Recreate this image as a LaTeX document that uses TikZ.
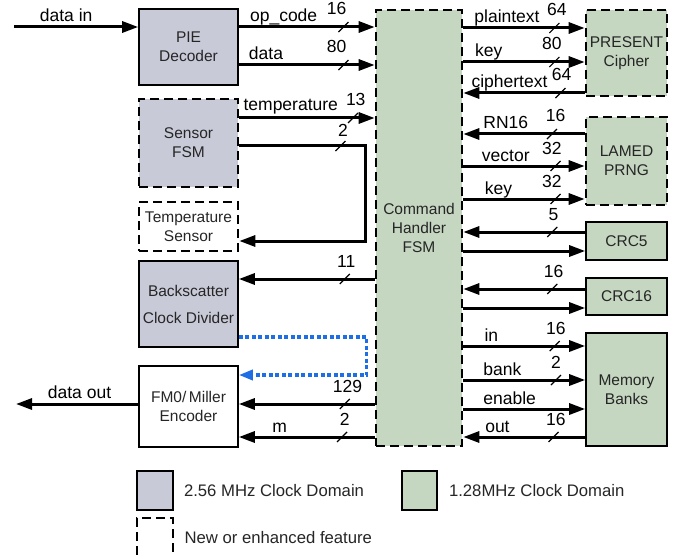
\documentclass[tikz,border=0pt]{standalone}
\usepackage{fontspec}
\setmainfont{Liberation Sans}
\usetikzlibrary{arrows.meta,positioning}
\definecolor{fastclk}{RGB}{200,202,216}
\definecolor{slowclk}{RGB}{197,214,193}
\definecolor{linkblue}{RGB}{30,110,230}
\begin{document}
\begin{tikzpicture}[
  x=1pt, y=-1pt,
  blk/.style={draw, line width=1.6pt, align=center, inner sep=0pt,
    font=\fontsize{15.5}{19}\selectfont, text=black!85},
  newblk/.style={blk, line width=2.6pt, dash pattern=on 9pt off 5pt},
  fast/.style={fill=fastclk}, slow/.style={fill=slowclk},
  bus/.style={line width=3pt, -{Triangle[length=16pt,width=11pt]}},
  ctl/.style={draw=linkblue, line width=3.4pt, dash pattern=on 4pt off 2.5pt,
    -{Triangle[length=14pt,width=10pt]}},
  sig/.style={anchor=base, inner sep=0pt, yshift=5pt, font=\fontsize{17.5}{20}\selectfont},
  num/.style={sig, yshift=7pt},
  slash/.style={line width=1.2pt},
  lgd/.style={font=\fontsize{16.7}{20}\selectfont, text=black!85, inner sep=0pt}
]
  \path[use as bounding box, fill=white] (0,0) rectangle (684,556);

  % left column
  \node[blk, fast, minimum width=99pt, minimum height=76pt] (pie) at (188.5,47) {PIE\\Decoder};
  \node[newblk, fast, minimum width=99pt, minimum height=88pt] (sfsm) at (188.5,143) {Sensor\\FSM};
  \node[newblk, minimum width=99pt, minimum height=49pt] (tsens) at (188.5,226.5) {Temperature\\Sensor};
  \node[blk, fast, minimum width=99pt, minimum height=86pt] (bdiv) at (188.5,304) {Backscatter\\[8pt]Clock Divider};
  \node[blk, fill=white, minimum width=99pt, minimum height=81pt] (enc) at (188.5,406.5) {FM0/\,Miller\\Encoder};

  % command handler
  \node[newblk, slow, minimum width=86pt, minimum height=436pt] (cmd) at (419,228) {Command\\Handler\\FSM};

  % right column
  \node[newblk, slow, minimum width=81pt, minimum height=86pt] (present) at (626.5,53) {PRESENT\\Cipher};
  \node[newblk, slow, minimum width=81pt, minimum height=88pt] (prng) at (626.5,161) {LAMED\\PRNG};
  \node[blk, slow, minimum width=81pt, minimum height=38pt] (crc5) at (626.5,241) {CRC5};
  \node[blk, slow, minimum width=81pt, minimum height=37pt] (crc16) at (626.5,296.5) {CRC16};
  \node[blk, slow, minimum width=81pt, minimum height=113pt] (mem) at (626.5,389.5) {Memory\\Banks};

  % external ends
  \coordinate (din) at (14,27);
  \coordinate (dout) at (16,404);
  \draw[bus] (din) -- node[pos=.42, sig] (l-din) {data in} (din -| pie.west);
  \draw[bus] ([yshift=2.5pt]enc.west) coordinate (y-dout) -- node[pos=.48, sig, yshift=1pt] (l-dout) {data out} (dout);

  % left buses
  \draw[bus] ([yshift=20pt]pie.east) coordinate (y-opc) -- node[pos=.33, sig] (l-opc) {op\_code}
    node[pos=.72, num] (n-opc) {16} coordinate[pos=.77] (w-opc) (y-opc -| cmd.west);
  \draw[bus] ([yshift=-18pt]pie.east) coordinate (y-dat) -- node[pos=.2, sig] (l-dat) {data}
    node[pos=.72, num] (n-dat) {80} coordinate[pos=.77] (w-dat) (y-dat -| cmd.west);
  \draw[bus] ([yshift=25pt]sfsm.east) coordinate (y-tmp) -- node[pos=.38, sig, yshift=2pt] (l-tmp) {temperature}
    node[pos=.86, num] (n-tmp) {13} coordinate[pos=.84] (w-tmp) (y-tmp -| cmd.west);
  \path ([yshift=-3pt]sfsm.east) coordinate (y-s2a) ([xshift=-9pt]cmd.west) coordinate (x-s2)
    ([yshift=-14.5pt]tsens.east) coordinate (y-s2b);
  \draw[bus] (y-s2a) -| node[pos=.41, num, yshift=-3pt] (n-s2) {2} coordinate[pos=.4] (w-s2)
    (x-s2 |- y-s2b) -- (y-s2b);
  \path ([yshift=25pt]bdiv.east) coordinate (y-clk);
  \draw[bus] (y-clk -| cmd.west) -- node[pos=.21, num] (n-clk) {11} coordinate[pos=.22] (w-clk) (y-clk);
  \path ([yshift=-33pt]bdiv.east) coordinate (y-bl1) ([yshift=31.5pt]enc.east) coordinate (y-bl2);
  \draw[ctl] (y-bl1) -| ([xshift=-8pt]cmd.west |- y-bl2) -- (y-bl2);
  \draw[bus] (y-dout -| cmd.west) -- node[pos=.2, num] (n-enc) {129} coordinate[pos=.22] (w-enc) (y-dout -| enc.east);
  \path ([yshift=-30.5pt]enc.east) coordinate (y-m);
  \draw[bus] (y-m -| cmd.west) -- node[pos=.7, sig] (l-m) {m}
    node[pos=.22, num] (n-m) {2} coordinate[pos=.24] (w-m) (y-m);

  % right buses
  \path ([yshift=25pt]present.west) coordinate (y-pt) ([yshift=-9pt]present.west) coordinate (y-k80)
    ([yshift=-40pt]present.west) coordinate (y-ct);
  \draw[bus] (y-pt -| cmd.east) -- node[pos=.36, sig] (l-pt) {plaintext}
    node[pos=.77, num] (n-pt) {64} coordinate[pos=.75] (w-pt) (y-pt);
  \draw[bus] (y-k80 -| cmd.east) -- node[pos=.21, sig] (l-k80) {key}
    node[pos=.73, num] (n-k80) {80} coordinate[pos=.75] (w-k80) (y-k80);
  \draw[bus] (y-ct) -- node[pos=.62, sig] (l-ct) {ciphertext}
    node[pos=.19, num] (n-ct) {64} coordinate[pos=.2] (w-ct) (y-ct -| cmd.east);
  \path ([yshift=27pt]prng.west) coordinate (y-rn) ([yshift=-5pt]prng.west) coordinate (y-vec)
    ([yshift=-38pt]prng.west) coordinate (y-k32);
  \draw[bus] (y-rn) -- node[pos=.65, sig] (l-rn) {RN16}
    node[pos=.24, num] (n-rn) {16} coordinate[pos=.27] (w-rn) (y-rn -| cmd.east);
  \draw[bus] (y-vec -| cmd.east) -- node[pos=.35, sig] (l-vec) {vector}
    node[pos=.73, num] (n-vec) {32} coordinate[pos=.76] (w-vec) (y-vec);
  \draw[bus] (y-k32 -| cmd.east) -- node[pos=.29, sig] (l-k32) {key}
    node[pos=.73, num] (n-k32) {32} coordinate[pos=.76] (w-k32) (y-k32);
  \path ([yshift=9pt]crc5.west) coordinate (y-c5a) ([yshift=-10pt]crc5.west) coordinate (y-c5b);
  \draw[bus] (y-c5a) -- node[pos=.26, num] (n-c5) {5} coordinate[pos=.27] (w-c5) (y-c5a -| cmd.east);
  \draw[bus] (y-c5b -| cmd.east) -- (y-c5b);
  \path ([yshift=7.5pt]crc16.west) coordinate (y-c16a) ([yshift=-11.5pt]crc16.west) coordinate (y-c16b);
  \draw[bus] (y-c16a) -- node[pos=.26, num] (n-c16) {16} coordinate[pos=.27] (w-c16) (y-c16a -| cmd.east);
  \draw[bus] (y-c16b -| cmd.east) -- (y-c16b);
  \path ([yshift=43.5pt]mem.west) coordinate (y-in) ([yshift=9.5pt]mem.west) coordinate (y-bk)
    ([yshift=-19.5pt]mem.west) coordinate (y-en) ([yshift=-47.5pt]mem.west) coordinate (y-out);
  \draw[bus] (y-in -| cmd.east) -- node[pos=.23, sig] (l-in) {in}
    node[pos=.76, num] (n-in) {16} coordinate[pos=.75] (w-in) (y-in);
  \draw[bus] (y-bk -| cmd.east) -- node[pos=.32, sig] (l-bk) {bank}
    node[pos=.76, num] (n-bk) {2} coordinate[pos=.76] (w-bk) (y-bk);
  \draw[bus] (y-en -| cmd.east) -- node[pos=.38, sig] (l-en) {enable} (y-en);
  \draw[bus] (y-out) -- node[pos=.72, sig] (l-out) {out}
    node[pos=.24, num] (n-out) {16} coordinate[pos=.26] (w-out) (y-out -| cmd.east);

  % bus width marks
  \foreach \w in {w-opc,w-dat,w-tmp,w-s2,w-clk,w-enc,w-m,w-pt,w-k80,w-ct,w-rn,w-vec,w-k32,w-c5,w-c16,w-in,w-bk,w-out}
    \draw[slash] ([shift={(-5pt,-5pt)}]\w) -- ([shift={(5pt,5pt)}]\w);

  % legend
  \node[blk, fast, minimum width=36pt, minimum height=39pt] (lg-fast) at (155,490.5) {};
  \node[lgd, right=10pt of lg-fast] (t-fast) {2.56 MHz Clock Domain};
  \node[blk, slow, minimum width=35pt, minimum height=39pt] (lg-slow) at (419.5,490.5) {};
  \node[lgd, right=11pt of lg-slow] (t-slow) {1.28MHz Clock Domain};
  \node[newblk, minimum width=36pt, minimum height=40pt] (lg-new) at (155,538) {};
  \node[lgd, right=10pt of lg-new] (t-new) {New or enhanced feature};
\end{tikzpicture}
\end{document}
